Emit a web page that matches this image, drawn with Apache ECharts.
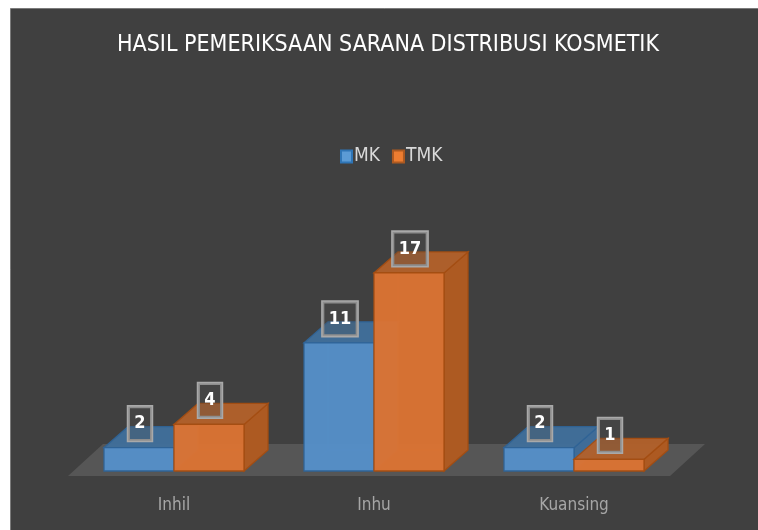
<!DOCTYPE html>
<html>
<head>
<meta charset="utf-8">
<script src="https://cdn.jsdelivr.net/npm/echarts@6/dist/echarts.min.js"></script>
<style>
  html, body { margin: 0; padding: 0; background: #ffffff; }
  #main { width: 758px; height: 530px; }
</style>
</head>
<body>
<div id="main"></div>
<script>
// data
const categories = ["Inhil", "Inhu", "Kuansing"];
const mkValues = [2, 11, 2];
const tmkValues = [4, 17, 1];
const seriesNames = ["MK", "TMK"];

const fontFam = "'Liberation Sans Narrow', 'DejaVu Sans Condensed', sans-serif";
const depthX = 24;
const depthY = -21;

const palettes = {
  MK: { front: "#5590c9", top: "#40709c", side: "#3f6c98", edge: "#2f6396" },
  TMK: { front: "#dc7433", top: "#b3612a", side: "#ad5a22", edge: "#a34d12" }
};

// draw one 3d box per data item, left (-1) or right (+1) of the category centre
function makeBox(side, pal) {
  return function (params, api) {
    const base = api.coord([api.value(0), 0]);
    const top = api.coord([api.value(0), api.value(1)]);
    const band = api.size([1, 0])[0];
    const w = band * 0.35;
    const x0 = side < 0 ? base[0] - w : base[0];
    const x1 = x0 + w;
    const yb = base[1];
    const yt = top[1];
    const dx = depthX, dy = depthY;
    const edge = { stroke: pal.edge, lineWidth: 1.3 };
    return {
      type: "group",
      children: [
        // hidden edges, seen through the faces
        { type: "polyline", shape: { points: [[x0, yb], [x0 + dx, yb + dy], [x1 + dx, yb + dy]] },
          style: { stroke: pal.edge, lineWidth: 1, opacity: 0.5, fill: null } },
        { type: "line", shape: { x1: x0 + dx, y1: yb + dy, x2: x0 + dx, y2: yt + dy },
          style: { stroke: pal.edge, lineWidth: 1, opacity: 0.5 } },
        { type: "polygon", shape: { points: [[x1, yb], [x1 + dx, yb + dy], [x1 + dx, yt + dy], [x1, yt]] },
          style: Object.assign({ fill: pal.side }, edge) },
        { type: "polygon", shape: { points: [[x0, yt], [x1, yt], [x1 + dx, yt + dy], [x0 + dx, yt + dy]] },
          style: Object.assign({ fill: pal.top, opacity: 0.95 }, edge) },
        { type: "rect", shape: { x: x0, y: yt, width: w, height: yb - yt },
          style: Object.assign({ fill: pal.front, opacity: 0.96 }, edge) },
        { type: "text", x: (x0 + x1) / 2 + 1, y: yt - 7,
          style: {
            text: String(api.value(1)), fill: "#ffffff",
            font: "bold 18px " + fontFam,
            align: "center", verticalAlign: "bottom",
            backgroundColor: "rgba(80,80,80,0.3)",
            borderColor: "#a9a9a9", borderWidth: 1.6,
            padding: [8, 6, 8, 6]
          } }
      ]
    };
  };
}

function drawFloor(params, api) {
  const cs = params.coordSys;
  const y0 = cs.y + cs.height + 5;
  const xl = cs.x - 6;
  const xr = cs.x + cs.width - 4;
  return {
    type: "polygon",
    shape: { points: [[xl, y0], [xr, y0], [xr + 35, y0 - 32], [xl + 35, y0 - 32]] },
    style: { fill: "#565656" },
    silent: true
  };
}

const chart = echarts.init(document.getElementById("main"));
chart.setOption({
  backgroundColor: "#ffffff",
  animation: false,
  graphic: [{
    type: "rect", z: -10, silent: true,
    shape: { x: 10.5, y: 8.5, width: 780, height: 540 },
    style: { fill: "#404040", stroke: "#7b7b7b", lineWidth: 1 }
  }],
  title: {
    text: "HASIL PEMERIKSAAN SARANA DISTRIBUSI KOSMETIK",
    left: 388, top: 34, textAlign: "center", padding: 0,
    textStyle: { color: "#ffffff", fontSize: 23, fontWeight: "normal", fontFamily: fontFam }
  },
  legend: {
    data: seriesNames,
    left: 340, top: 147, padding: 0,
    icon: "rect", itemWidth: 11, itemHeight: 12, itemGap: 12,
    textStyle: { color: "#d9d9d9", fontSize: 19, fontFamily: fontFam, padding: [0, 0, 0, -3] }
  },
  grid: { left: 74, width: 600, top: 238, bottom: 59 },
  xAxis: {
    type: "category",
    data: categories,
    axisLine: { show: false },
    axisTick: { show: false },
    axisLabel: { color: "#a6a6a6", fontSize: 17, fontFamily: fontFam, margin: 26 }
  },
  yAxis: { type: "value", min: 0, max: 20, show: false },
  series: [
    { type: "custom", z: 1, silent: true, renderItem: drawFloor, data: [[0, 0]] },
    {
      name: seriesNames[0], type: "custom", z: 2,
      itemStyle: { color: "#5b9bd5", borderColor: "#2e75b6", borderWidth: 1 },
      renderItem: makeBox(-1, palettes.MK),
      data: mkValues.map((v, i) => [i, v])
    },
    {
      name: seriesNames[1], type: "custom", z: 2,
      itemStyle: { color: "#ed7d31", borderColor: "#ae5a21", borderWidth: 1 },
      renderItem: makeBox(1, palettes.TMK),
      data: tmkValues.map((v, i) => [i, v])
    }
  ]
});
</script>
</body>
</html>
